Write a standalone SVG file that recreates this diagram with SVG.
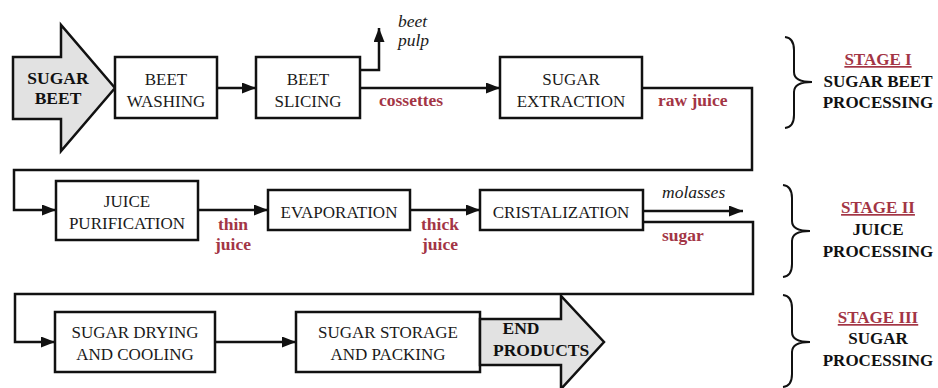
<svg xmlns="http://www.w3.org/2000/svg" width="938" height="388" viewBox="0 0 938 388" font-family="Liberation Serif">
  <defs>
    <marker id="head" markerUnits="userSpaceOnUse" markerWidth="15" markerHeight="12" refX="14" refY="5.5" orient="auto">
      <path d="M0,0 L14,5.5 L0,11 z" fill="#111"/>
    </marker>
  </defs>
  <style>
    .box { fill: #fff; stroke: #111; stroke-width: 2.5; }
    .big { fill: #e2e2e2; stroke: #111; stroke-width: 2.5; stroke-linejoin: miter; }
    .flow { fill: none; stroke: #111; stroke-width: 2.5; marker-end: url(#head); }
    .brace { fill: none; stroke: #111; stroke-width: 2; }
    text { fill: #1a1a1a; }
    .lbl { font-size: 17px; text-anchor: middle; }
    .bold { font-size: 17.5px; font-weight: bold; text-anchor: middle; fill: #111; }
    .bold-start { font-size: 17.5px; font-weight: bold; text-anchor: start; fill: #111; }
    .red { font-size: 17.5px; font-weight: bold; fill: #a33545; }
    .mid { text-anchor: middle; }
    .ital { font-size: 17.5px; font-style: italic; }
    .stage { font-size: 17px; font-weight: bold; text-anchor: middle; fill: #111; }
    .stage-title { fill: #a33545; text-decoration: underline; }
  </style>

  <!-- connectors -->
  <g id="connectors">
    <path class="flow" d="M217,88 H256"/>
    <path class="flow" d="M360,88 H500"/>
    <path class="flow" d="M360,70 H379 V28"/>
    <path class="flow" d="M642,88 H752 V170 H14 V210 H56"/>
    <path class="flow" d="M198,210 H268"/>
    <path class="flow" d="M410,210 H480"/>
    <path class="flow" d="M643,211 H743"/>
    <path class="flow" d="M643,222 H753 V294 H15 V342 H55"/>
    <path class="flow" d="M215,342 H296"/>
  </g>

  <!-- stage I -->
  <g id="sugar-beet" font-family="Liberation Serif">
    <polygon class="big" points="13,57 61,57 61,25 115,88 61,151 61,119 13,119"/>
    <text class="bold" x="58" y="84" font-family="Liberation Serif">SUGAR</text>
    <text class="bold" x="58" y="104" font-family="Liberation Serif">BEET</text>
  </g>
  <g id="beet-washing">
    <rect class="box" x="115" y="57" width="102" height="61"/>
    <text class="lbl" x="166" y="85" font-family="Liberation Serif">BEET</text>
    <text class="lbl" x="166" y="107" font-family="Liberation Serif">WASHING</text>
  </g>
  <g id="beet-slicing">
    <rect class="box" x="256" y="57" width="104" height="61"/>
    <text class="lbl" x="308" y="85" font-family="Liberation Serif">BEET</text>
    <text class="lbl" x="308" y="107" font-family="Liberation Serif">SLICING</text>
  </g>
  <g id="beet-pulp">
    <text class="ital" x="398" y="27" font-family="Liberation Serif">beet</text>
    <text class="ital" x="398" y="46" font-family="Liberation Serif">pulp</text>
  </g>
  <g id="cossettes">
    <text class="red" x="379" y="106" font-family="Liberation Serif">cossettes</text>
  </g>
  <g id="sugar-extraction">
    <rect class="box" x="500" y="57" width="142" height="61"/>
    <text class="lbl" x="571" y="85" font-family="Liberation Serif">SUGAR</text>
    <text class="lbl" x="571" y="107" font-family="Liberation Serif">EXTRACTION</text>
  </g>
  <g id="raw-juice">
    <text class="red" x="658" y="106" font-family="Liberation Serif">raw juice</text>
  </g>

  <!-- stage II -->
  <g id="juice-purification">
    <rect class="box" x="56" y="181" width="142" height="59"/>
    <text class="lbl" x="127" y="207" font-family="Liberation Serif">JUICE</text>
    <text class="lbl" x="127" y="229" font-family="Liberation Serif">PURIFICATION</text>
  </g>
  <g id="thin-juice">
    <text class="red mid" x="233" y="230" font-family="Liberation Serif">thin</text>
    <text class="red mid" x="233" y="250" font-family="Liberation Serif">juice</text>
  </g>
  <g id="evaporation">
    <rect class="box" x="268" y="190" width="142" height="40"/>
    <text class="lbl" x="339" y="218" font-family="Liberation Serif">EVAPORATION</text>
  </g>
  <g id="thick-juice">
    <text class="red mid" x="440" y="230" font-family="Liberation Serif">thick</text>
    <text class="red mid" x="440" y="250" font-family="Liberation Serif">juice</text>
  </g>
  <g id="cristalization">
    <rect class="box" x="480" y="190" width="163" height="40"/>
    <text class="lbl" x="561" y="218" font-family="Liberation Serif">CRISTALIZATION</text>
  </g>
  <g id="molasses">
    <text class="ital" x="662" y="198" font-family="Liberation Serif">molasses</text>
  </g>
  <g id="sugar">
    <text class="red" x="662" y="241" font-family="Liberation Serif">sugar</text>
  </g>

  <!-- stage III -->
  <g id="sugar-drying">
    <rect class="box" x="55" y="312" width="160" height="60"/>
    <text class="lbl" x="135" y="338" font-family="Liberation Serif">SUGAR DRYING</text>
    <text class="lbl" x="135" y="360" font-family="Liberation Serif">AND COOLING</text>
  </g>
  <g id="sugar-storage">
    <rect class="box" x="296" y="312" width="184" height="60"/>
    <text class="lbl" x="388" y="338" font-family="Liberation Serif">SUGAR STORAGE</text>
    <text class="lbl" x="388" y="360" font-family="Liberation Serif">AND PACKING</text>
  </g>
  <g id="end-products">
    <polygon class="big" points="480,319 561,319 561,296 604,342 561,389 561,365 480,365"/>
    <text class="bold" x="521" y="334" font-family="Liberation Serif">END</text>
    <text class="bold-start" x="493" y="356" font-family="Liberation Serif">PRODUCTS</text>
  </g>

  <!-- stage braces and captions -->
  <g id="stage-1">
    <path class="brace" d="M785,37 Q794,38 794,50 V72 Q794,82 812,82 Q794,82 794,92 V115 Q794,127 785,128"/>
    <text class="stage stage-title" x="878" y="65" font-family="Liberation Serif">STAGE I</text>
    <text class="stage" x="878" y="87" font-family="Liberation Serif">SUGAR BEET</text>
    <text class="stage" x="878" y="108" font-family="Liberation Serif">PROCESSING</text>
  </g>
  <g id="stage-2">
    <path class="brace" d="M783,185 Q792,186 792,198 V221 Q792,231 810,231 Q792,231 792,241 V264 Q792,276 783,277"/>
    <text class="stage stage-title" x="878" y="213" font-family="Liberation Serif">STAGE II</text>
    <text class="stage" x="878" y="235" font-family="Liberation Serif">JUICE</text>
    <text class="stage" x="878" y="257" font-family="Liberation Serif">PROCESSING</text>
  </g>
  <g id="stage-3">
    <path class="brace" d="M783,295 Q792,296 792,308 V332 Q792,342 810,342 Q792,342 792,352 V374 Q792,386 783,387"/>
    <text class="stage stage-title" x="878" y="323" font-family="Liberation Serif">STAGE III</text>
    <text class="stage" x="878" y="344" font-family="Liberation Serif">SUGAR</text>
    <text class="stage" x="878" y="366" font-family="Liberation Serif">PROCESSING</text>
  </g>
</svg>
